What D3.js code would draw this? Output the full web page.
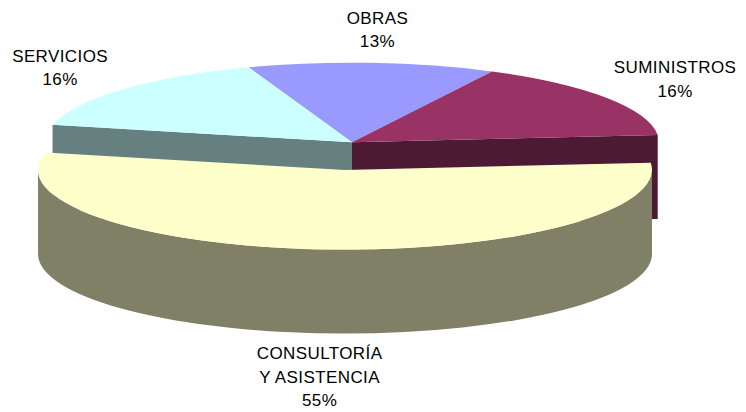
<!DOCTYPE html>
<html>
<head>
<meta charset="utf-8">
<script src="https://cdn.jsdelivr.net/npm/d3@7"></script>
<style>
  html, body { margin: 0; padding: 0; background: #fff; }
  svg { display: block; }
  text { font-family: "Liberation Sans", Arial, sans-serif; font-size: 17px; fill: #000; }
</style>
</head>
<body>
<svg id="chart" width="746" height="412"></svg>
<script>
// ---- data (clockwise order, starting with OBRAS) ----
const categories = ["OBRAS", "SUMINISTROS", "CONSULTORÍA Y ASISTENCIA", "SERVICIOS"];
const labelLines = [["OBRAS"], ["SUMINISTROS"], ["CONSULTORÍA", "Y ASISTENCIA"], ["SERVICIOS"]];
const values = [13, 16, 55, 16];
const percentLabels = ["13%", "16%", "55%", "16%"];
const topColors = ["#9999FF", "#993366", "#FFFFCC", "#CCFFFF"];
const sideColors = ["#4D4D80", "#4D1A33", "#808066", "#668080"];
const explodedIndex = 2;

// ---- layout ----
const cx = 352, cy = 142.3;   // centre of pie top
const rx = 307, ry = 79.6;    // top ellipse radii
const depth = 84;             // thickness
const explode = 107;          // explosion distance (in pie-plane units of rx)
const startDeg = -19.66;
const labelRx = 390, labelRy = 113, lineGap = 23.5;

const svg = d3.select("#chart");
const rad = Math.PI / 180;
const pie = d3.pie().sort(null).value(d => d)
  .startAngle(startDeg * rad).endAngle(startDeg * rad + 2 * Math.PI);
const arcs = pie(values);

function pt(c, a, dy) { return [c[0] + rx * Math.sin(a), c[1] - ry * Math.cos(a) + (dy || 0)]; }
function centreOf(d, i) {
  if (i !== explodedIndex) return [cx, cy];
  const m = (d.startAngle + d.endAngle) / 2;
  return [cx + explode * Math.sin(m), cy - explode * (ry / rx) * Math.cos(m)];
}
function topPath(c, a0, a1) {
  const p0 = pt(c, a0), p1 = pt(c, a1);
  const large = (a1 - a0) > Math.PI ? 1 : 0;
  return `M${c[0]},${c[1]}L${p0[0]},${p0[1]}A${rx},${ry} 0 ${large} 1 ${p1[0]},${p1[1]}Z`;
}
function cutPath(c, a) {
  const p = pt(c, a);
  return `M${c[0]},${c[1]}L${p[0]},${p[1]}L${p[0]},${p[1] + depth}L${c[0]},${c[1] + depth}Z`;
}
function wallPath(c, a0, a1) {
  // visible (front) portion of the outer wall: screen angles between 90° and 270°
  const lo = Math.max(a0, Math.PI / 2), hi = Math.min(a1, 1.5 * Math.PI);
  if (hi <= lo) return null;
  const t0 = pt(c, lo), t1 = pt(c, hi);
  const large = (hi - lo) > Math.PI ? 1 : 0;
  return `M${t0[0]},${t0[1]}A${rx},${ry} 0 ${large} 1 ${t1[0]},${t1[1]}` +
         `L${t1[0]},${t1[1] + depth}A${rx},${ry} 0 ${large} 0 ${t0[0]},${t0[1] + depth}Z`;
}

const g = svg.append("g");
const back = arcs.map((d, i) => ({ d, i })).filter(o => o.i !== explodedIndex);
const ex = arcs[explodedIndex];

// cut faces of the non-exploded slices that neighbour the exploded slice
const exC = [cx, cy];
back.forEach(({ d, i }) => {
  if (Math.abs(d.endAngle - ex.startAngle) < 1e-6) {
    g.append("path").attr("d", cutPath(exC, d.endAngle)).attr("fill", sideColors[i]);
  }
  if (Math.abs(((d.startAngle - ex.endAngle) % (2 * Math.PI))) < 1e-6 ||
      Math.abs(d.startAngle + 2 * Math.PI - ex.endAngle) < 1e-6) {
    g.append("path").attr("d", cutPath(exC, d.startAngle)).attr("fill", sideColors[i]);
  }
});
// tops of back slices
back.forEach(({ d, i }) => {
  g.append("path").attr("d", topPath([cx, cy], d.startAngle, d.endAngle)).attr("fill", topColors[i]);
});
// exploded slice
const c2 = centreOf(ex, explodedIndex);
const w = wallPath(c2, ex.startAngle, ex.endAngle);
if (w) g.append("path").attr("d", w).attr("fill", sideColors[explodedIndex]);
g.append("path").attr("d", topPath(c2, ex.startAngle, ex.endAngle)).attr("fill", topColors[explodedIndex]);

// labels
arcs.forEach((d, i) => {
  const c = centreOf(d, i);
  const m = (d.startAngle + d.endAngle) / 2;
  let x = c[0] + labelRx * Math.sin(m);
  let y = c[1] - labelRy * Math.cos(m);
  if (Math.cos(m) < 0) y += depth + 10;
  const lines = labelLines[i].concat([percentLabels[i]]);
  const first = y - (lines.length - 1) / 2 * lineGap + 6;
  const t = svg.append("text").attr("text-anchor", "middle").attr("letter-spacing", "0.4px");
  lines.forEach((s, k) => {
    t.append("tspan").attr("x", x).attr("y", first + k * lineGap).text(s);
  });
});
</script>
</body>
</html>
